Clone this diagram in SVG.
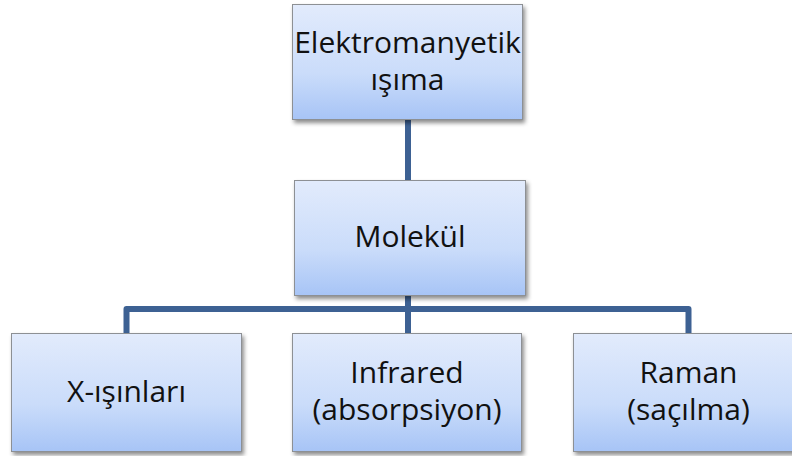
<svg xmlns="http://www.w3.org/2000/svg" width="792" height="456" viewBox="0 0 792 456">
<defs>
<linearGradient id="g" x1="0" y1="0" x2="0" y2="1">
<stop offset="0" stop-color="#e2ebfc"/>
<stop offset="0.6" stop-color="#cadcfa"/>
<stop offset="1" stop-color="#a7c4f6"/>
</linearGradient>
<filter id="sh" x="-10%" y="-10%" width="125%" height="130%">
<feDropShadow dx="2" dy="3" stdDeviation="2" flood-color="#000" flood-opacity="0.45"/>
</filter>
<style>
.box{fill:url(#g);stroke:#8d9094;stroke-width:1;filter:url(#sh)}
.t{font-family:"Open Sans","Noto Sans","Liberation Sans",sans-serif;font-size:30px;fill:#111;text-anchor:middle}
.c{fill:none;stroke:#3d6193;stroke-width:6;stroke-linejoin:round}
</style>
</defs>
<g id="connectors">
<path class="c" d="M408,119 V181"/>
<path class="c" d="M408,294 V334"/>
<path class="c" d="M126.5,334 V309 H688.5 V334"/>
</g>
<g id="n1">
<rect class="box" x="292.5" y="4.5" width="230" height="115"/>
<text class="t" x="407.5" y="53">Elektromanyetik</text>
<text class="t" x="407.5" y="90">ışıma</text>
</g>
<g id="n2">
<rect class="box" x="294.5" y="180.5" width="231" height="115"/>
<text class="t" x="410" y="247">Molekül</text>
</g>
<g id="n3">
<rect class="box" x="11.5" y="333.5" width="230" height="118"/>
<text class="t" x="126.5" y="402">X-ışınları</text>
</g>
<g id="n4">
<rect class="box" x="292.5" y="333.5" width="229" height="118"/>
<text class="t" x="407" y="383">Infrared</text>
<text class="t" x="407" y="420">(absorpsiyon)</text>
</g>
<g id="n5">
<rect class="box" x="573.5" y="333.5" width="230" height="118"/>
<text class="t" x="688.5" y="383">Raman</text>
<text class="t" x="688.5" y="420">(saçılma)</text>
</g>
</svg>
